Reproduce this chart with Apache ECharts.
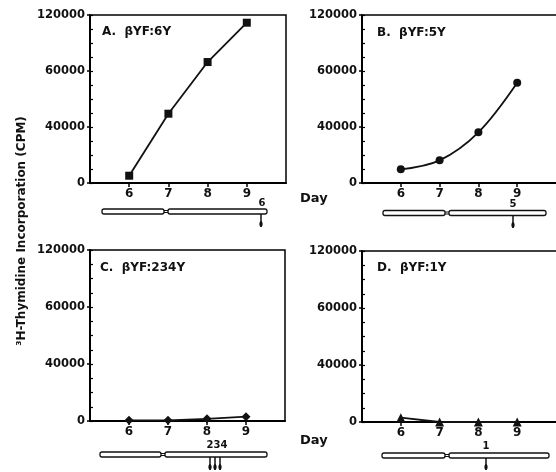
<!DOCTYPE html>
<html><head><meta charset="utf-8">
<script src="https://cdn.jsdelivr.net/npm/echarts@6/dist/echarts.min.js"></script>
<style>html,body{margin:0;padding:0;background:#fff}#c{width:556px;height:472px}</style>
</head><body><div id="c"></div>
<script>
const days = [6, 7, 8, 9];
const valuesA = [5200, 49500, 86400, 114500];
const valuesB = [9800, 16200, 36200, 71600];
const valuesC = [500, 500, 1500, 3000];
const valuesD = [3000, 0, 0, 0];
const panelTitles = ['A.  βYF:6Y', 'B.  βYF:5Y', 'C.  βYF:234Y', 'D.  βYF:1Y'];
const yTickValues = [0, 40000, 80000, 120000];
const yTickLabels = ['0', '40000', '60000', '120000'];
const siteLabels = ['6', '5', '234', '1'];
const yTitle = '³H-Thymidine Incorporation (CPM)';
const xTitle = 'Day';

const FONT = 'DejaVu Sans';
const seriesValues = [valuesA, valuesB, valuesC, valuesD];
const symbols = ['rect', 'circle', 'diamond', 'triangle'];
const symbolSizes = [8, 8, 9, 9];
const smooth = [false, 0.35, false, false];
const openRight = [false, true, false, true];
const grids = [
  {left: 90, top: 15, width: 196, height: 168},
  {left: 362, top: 15, width: 198, height: 168},
  {left: 90, top: 250, width: 195, height: 171},
  {left: 362, top: 251, width: 198, height: 171}
];

const xAxes = [], yAxes = [], series = [];
grids.forEach((g, i) => {
  g.show = !openRight[i]; g.borderColor = '#000'; g.borderWidth = 1.5; g.backgroundColor = 'transparent';
  xAxes.push({
    type: 'value', gridIndex: i, min: 5, max: 10,
    axisLine: {show: true, onZero: false, lineStyle: {color: '#000', width: 2}},
    axisTick: {show: true, customValues: days, length: 4, lineStyle: {color: '#000', width: 1.5}},
    axisLabel: {customValues: days, margin: 5, color: '#111', fontFamily: FONT, fontWeight: 'bold', fontSize: 12},
    splitLine: {show: false}
  });
  yAxes.push({
    type: 'value', gridIndex: i, position: 'left', min: 0, max: 120000,
    axisLine: {show: true, onZero: false, lineStyle: {color: '#000', width: 2}},
    axisTick: {show: true, customValues: yTickValues, length: 3, lineStyle: {color: '#000', width: 1.5}},
    axisLabel: {customValues: yTickValues, margin: 5, color: '#111', fontFamily: FONT, fontWeight: 'bold', fontSize: 11.5,
      formatter: v => yTickLabels[yTickValues.indexOf(v)]},
    splitLine: {show: false}
  });
  yAxes.push({
    type: 'value', gridIndex: i, position: 'left', offset: 0, min: 0, max: 120000, interval: 10000,
    axisLine: {show: false, onZero: false},
    axisTick: {show: true, inside: true, length: 3, lineStyle: {color: '#000', width: 1.2}},
    axisLabel: {show: false}, splitLine: {show: false}
  });
  series.push({
    type: 'line', xAxisIndex: i, yAxisIndex: i * 2,
    data: days.map((d, k) => [d, seriesValues[i][k]]),
    symbol: symbols[i], symbolSize: symbolSizes[i], smooth: smooth[i],
    lineStyle: {color: '#111', width: 1.8},
    itemStyle: {color: '#111'},
    z: 5
  });
});
// top frame lines for the panels cut off at the right edge
grids.forEach((g, i) => {
  if (!openRight[i]) return;
  xAxes.push({
    type: 'value', gridIndex: i, position: 'top', min: 5, max: 10,
    axisLine: {show: true, onZero: false, lineStyle: {color: '#000', width: 1.5}},
    axisTick: {show: false}, axisLabel: {show: false}, splitLine: {show: false}
  });
});

const graphics = [];
const titlePos = [[102, 32], [377, 33], [100, 268], [377, 268]];
panelTitles.forEach((t, i) => graphics.push({
  type: 'text', x: titlePos[i][0], y: titlePos[i][1],
  style: {text: t, fontFamily: FONT, fontWeight: 'bold', fontSize: 12, fill: '#111', verticalAlign: 'middle'}
}));
graphics.push({
  type: 'text', x: 22, y: 231, rotation: Math.PI / 2,
  style: {text: yTitle, fontFamily: FONT, fontWeight: 'bold', fontSize: 12, fill: '#111', align: 'center', verticalAlign: 'middle'}
});
[[300, 199], [300, 441]].forEach(p => graphics.push({
  type: 'text', x: p[0], y: p[1],
  style: {text: xTitle, fontFamily: FONT, fontWeight: 'bold', fontSize: 13, fill: '#111', verticalAlign: 'middle'}
}));

// chromosome schematics
const chrom = [
  {x1: 102, x2: 267, y: 209, notch: 166, label: [262, 203], arrows: [261], ay: [215, 227]},
  {x1: 383, x2: 546, y: 210.5, notch: 447, label: [513, 204], arrows: [513], ay: [216, 228]},
  {x1: 100, x2: 267, y: 452, notch: 163, label: [217, 445], arrows: [210, 215, 220], ay: [460, 470]},
  {x1: 382, x2: 549, y: 453, notch: 447, label: [486, 446], arrows: [486], ay: [459, 470]}
];
chrom.forEach((c, i) => {
  graphics.push({type: 'rect', shape: {x: c.notch - 3, y: c.y + 1.5, width: 6, height: 2},
    style: {fill: '#fff', stroke: '#111', lineWidth: 1}});
  graphics.push({type: 'rect', shape: {x: c.x1, y: c.y, width: c.notch - 2 - c.x1, height: 5, r: 2},
    style: {fill: '#fff', stroke: '#111', lineWidth: 1.3}});
  graphics.push({type: 'rect', shape: {x: c.notch + 2, y: c.y, width: c.x2 - c.notch - 2, height: 5, r: 2},
    style: {fill: '#fff', stroke: '#111', lineWidth: 1.3}});
  graphics.push({type: 'text', x: c.label[0], y: c.label[1],
    style: {text: siteLabels[i], fontFamily: FONT, fontWeight: 'bold', fontSize: 10, fill: '#111', align: 'center', verticalAlign: 'middle'}});
  c.arrows.forEach(ax => {
    graphics.push({type: 'line', shape: {x1: ax, y1: c.y + 5, x2: ax, y2: c.ay[1]}, style: {stroke: '#111', lineWidth: 1.5}});
    graphics.push({type: 'ellipse', shape: {cx: ax, cy: c.ay[1] - 3, rx: 1.6, ry: 3}, style: {fill: '#111'}});
  });
});

const chart = echarts.init(document.getElementById('c'), null, {renderer: 'canvas'});
chart.setOption({
  animation: false,
  backgroundColor: '#fff',
  grid: grids, xAxis: xAxes, yAxis: yAxes, series: series, graphic: graphics
});
</script></body></html>
